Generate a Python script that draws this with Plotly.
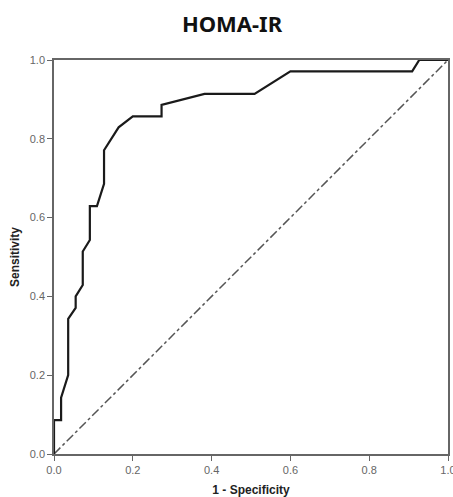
import plotly.graph_objects as go

# ROC curve points (1 - specificity, sensitivity)
fpr = [0.0, 0.0, 0.018, 0.018, 0.036, 0.036, 0.055, 0.055, 0.073, 0.073, 0.091, 0.091,
       0.109, 0.127, 0.127, 0.145, 0.164, 0.2, 0.273, 0.273, 0.382, 0.509, 0.6, 0.909,
       0.927, 1.0]
tpr = [0.0, 0.086, 0.086, 0.143, 0.2, 0.343, 0.371, 0.4, 0.429, 0.514, 0.543, 0.629,
       0.629, 0.686, 0.771, 0.8, 0.829, 0.857, 0.857, 0.886, 0.914, 0.914, 0.971, 0.971,
       1.0, 1.0]
ref_x = [0.0, 1.0]
ref_y = [0.0, 1.0]
tick_vals = [0.0, 0.2, 0.4, 0.6, 0.8, 1.0]
tick_text = ["0.0", "0.2", "0.4", "0.6", "0.8", "1.0"]

fig = go.Figure()
fig.add_trace(go.Scatter(x=ref_x, y=ref_y, mode="lines",
                         line=dict(color="#555555", width=1.5, dash="dashdot"),
                         showlegend=False, hoverinfo="skip"))
fig.add_trace(go.Scatter(x=fpr, y=tpr, mode="lines",
                         line=dict(color="#1a1a1a", width=2.2),
                         showlegend=False))

axis_common = dict(
    range=[0, 1], tickvals=tick_vals, ticktext=tick_text,
    showgrid=False, zeroline=False,
    showline=True, linecolor="#666666", linewidth=1.5, mirror=True,
    ticks="outside", ticklen=5, tickwidth=1.2, tickcolor="#666666",
    ticklabeloverflow="allow",
    tickfont=dict(family="Liberation Sans, Arial, sans-serif", size=11, color="#666666"),
)

fig.update_layout(
    width=453, height=497,
    margin=dict(l=54, r=5, t=60, b=43, autoexpand=False),
    paper_bgcolor="white", plot_bgcolor="white",
    title=dict(text="<b>HOMA-IR</b>", x=232 / 453, xref="container", xanchor="center",
               y=1 - 24 / 497, yref="container", yanchor="middle",
               font=dict(family="Noto Sans, Open Sans, sans-serif", size=22, color="#111111")),
    xaxis=dict(**axis_common,
               title=dict(text="<b>1 - Specificity</b>", standoff=11,
                          font=dict(family="Liberation Sans, Arial, sans-serif", size=12, color="#222222"))),
    yaxis=dict(**axis_common,
               title=dict(text="<b>Sensitivity</b>", standoff=8,
                          font=dict(family="Liberation Sans, Arial, sans-serif", size=12, color="#222222"))),
)

fig.write_html("out.html", config={"displayModeBar": False},
               post_script="document.body.style.margin='0px';")
